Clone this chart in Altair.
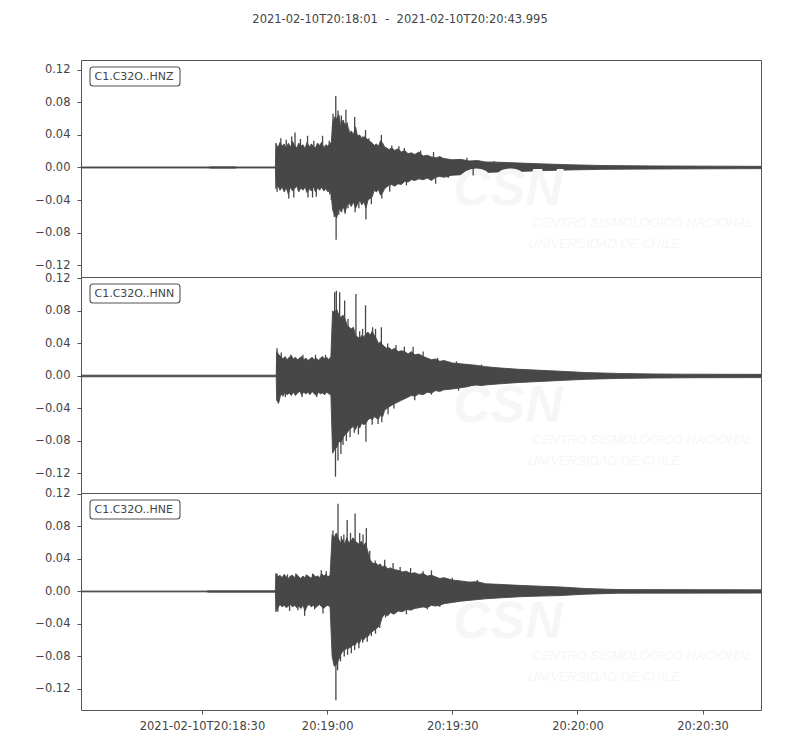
import altair as alt
import pandas as pd

# ---------------- data (seconds after 2021-02-10T20:18:01) ----------------
T_END = 162.995
title_text = "2021-02-10T20:18:01\u00a0\u00a0-\u00a0\u00a02021-02-10T20:20:43.995"
channels = ["C1.C32O..HNZ", "C1.C32O..HNN", "C1.C32O..HNE"]

x_tick_values = [29, 59, 89, 119, 149]
x_tick_labels = ["2021-02-10T20:18:30", "20:19:00", "20:19:30", "20:20:00", "20:20:30"]
y_tick_values = [-0.12, -0.08, -0.04, 0.0, 0.04, 0.08, 0.12]
y_domains = [[-0.1347, 0.1322], [-0.1440, 0.1218], [-0.1459, 0.1212]]

# envelope (time, upper, lower)
hnz_env = [(0, .0006, -.0006), (30.5, .0006, -.0006), (31, .0009, -.0009), (37, .0009, -.0009),
           (37.5, .0006, -.0006), (46.6, .0006, -.0006),
           (46.7, .030, -.026), (47.2, .024, -.022), (47.7, .031, -.028), (48.2, .026, -.024),
           (48.7, .029, -.030), (49.2, .023, -.025), (49.7, .030, -.033), (50.2, .025, -.024),
           (50.7, .032, -.029), (51.2, .027, -.026), (51.7, .024, -.023), (52.2, .030, -.030),
           (52.7, .026, -.025), (53.2, .028, -.028), (53.7, .023, -.024), (54.2, .031, -.031),
           (54.7, .025, -.026), (55.2, .029, -.029), (55.7, .026, -.023), (56.2, .024, -.030),
           (56.7, .030, -.025), (57.2, .027, -.028), (57.7, .031, -.024), (58.2, .024, -.029),
           (58.7, .028, -.026), (59.2, .026, -.030), (59.7, .030, -.027), (60.0, .030, -.034),
           (60.3, .055, -.052), (60.8, .062, -.058), (61.3, .060, -.062), (61.8, .065, -.050),
           (62.3, .050, -.054), (62.8, .058, -.048), (63.3, .052, -.055), (63.8, .055, -.046),
           (64.3, .042, -.044), (64.8, .045, -.048), (65.3, .040, -.042), (65.8, .050, -.050),
           (66.3, .038, -.045), (66.8, .040, -.040), (67.3, .035, -.046), (67.8, .038, -.042),
           (68.3, .036, -.050), (68.8, .034, -.040), (69.3, .032, -.038), (69.8, .030, -.036),
           (70.3, .027, -.028), (70.8, .029, -.030), (71.3, .026, -.027), (71.8, .033, -.034),
           (72.3, .030, -.031), (72.8, .025, -.026), (73.3, .024, -.024), (73.8, .022, -.022),
           (74.5, .024, -.021), (75.2, .021, -.023), (76.0, .023, -.020), (76.8, .019, -.021),
           (77.6, .021, -.017), (78.4, .017, -.018), (79.2, .018, -.015), (80.0, .016, -.016),
           (81.0, .019, -.014), (82.0, .014, -.015), (83.0, .015, -.013), (84.0, .013, -.016),
           (85.0, .012, -.012), (86.0, .013, -.011), (87.0, .011, -.012), (89.0, .0095, -.0095),
           (91.0, .010, -.009), (93.0, .008, -.0085), (95.0, .0085, -.0075), (97.0, .0068, -.0062),
           (100.0, .0065, -.0055), (105.0, .0055, -.0048), (110.0, .0045, -.0040), (117.0, .0034, -.0030),
           (125.0, .0024, -.0023), (137.0, .0019, -.0019), (153.0, .0016, -.0016), (163.0, .0014, -.0014)]
hnn_env = [(0, .0010, -.0010), (46.8, .0010, -.0010),
           (46.9, .030, -.030), (47.4, .026, -.033), (47.9, .024, -.022), (48.4, .021, -.025),
           (48.9, .024, -.020), (49.4, .020, -.023), (49.9, .023, -.021), (50.4, .025, -.024),
           (50.9, .021, -.020), (51.4, .023, -.024), (51.9, .020, -.021), (52.4, .022, -.019),
           (52.9, .024, -.023), (53.4, .020, -.020), (53.9, .022, -.022), (54.4, .019, -.020),
           (54.9, .021, -.023), (55.4, .023, -.019), (55.9, .020, -.022), (56.4, .022, -.024),
           (56.9, .019, -.020), (57.4, .022, -.022), (57.9, .024, -.021), (58.4, .021, -.023),
           (58.9, .023, -.020), (59.4, .020, -.022), (59.9, .024, -.023),
           (60.3, .080, -.095), (60.8, .078, -.090), (61.3, .082, -.088), (61.8, .075, -.080),
           (62.3, .072, -.082), (62.8, .075, -.076), (63.3, .070, -.072), (63.8, .062, -.070),
           (64.3, .060, -.066), (64.8, .058, -.064), (65.3, .060, -.062), (65.8, .050, -.066),
           (66.3, .048, -.060), (66.8, .046, -.064), (67.3, .050, -.058), (67.8, .048, -.060),
           (68.3, .052, -.058), (68.8, .054, -.054), (69.3, .050, -.052), (69.8, .055, -.054),
           (70.3, .050, -.050), (70.8, .046, -.052), (71.3, .040, -.053), (71.8, .042, -.048),
           (72.3, .038, -.050), (72.8, .036, -.042), (73.3, .034, -.040), (73.8, .035, -.038),
           (74.5, .032, -.036), (75.2, .034, -.034), (76.0, .030, -.032), (76.8, .031, -.030),
           (77.6, .030, -.028), (78.4, .027, -.026), (79.2, .030, -.024), (80.0, .026, -.025),
           (81.0, .027, -.022), (82.0, .024, -.023), (83.0, .022, -.020), (84.0, .020, -.021),
           (85.0, .021, -.018), (86.0, .018, -.019), (87.0, .019, -.017), (89.0, .016, -.016),
           (91.0, .015, -.0145), (93.0, .014, -.013), (95.0, .013, -.0125), (97.0, .0115, -.011),
           (100.0, .010, -.0098), (105.0, .0082, -.008), (110.0, .007, -.0068), (115.0, .0058, -.0055),
           (121.0, .0042, -.0041), (129.0, .0031, -.003), (137.0, .0025, -.0025), (145.0, .0022, -.0022),
           (163.0, .0020, -.0020)]
hne_env = [(0, .0005, -.0005), (30, .0005, -.0005), (30.5, .0009, -.0009), (46.6, .0009, -.0009),
           (46.7, .022, -.025), (47.2, .018, -.020), (47.7, .020, -.016), (48.2, .017, -.019),
           (48.7, .021, -.017), (49.2, .018, -.020), (49.7, .016, -.018), (50.2, .019, -.016),
           (50.7, .020, -.019), (51.2, .017, -.017), (51.7, .021, -.020), (52.2, .018, -.018),
           (52.7, .016, -.021), (53.2, .019, -.017), (53.7, .017, -.024), (54.2, .020, -.018),
           (54.7, .018, -.016), (55.2, .016, -.019), (55.7, .021, -.017), (56.2, .018, -.020),
           (56.7, .019, -.018), (57.2, .017, -.016), (57.7, .022, -.019), (58.2, .019, -.021),
           (58.7, .021, -.018), (59.2, .018, -.017), (59.7, .020, -.019),
           (60.2, .070, -.080), (60.7, .066, -.092), (61.2, .072, -.090), (61.7, .065, -.085),
           (62.2, .060, -.078), (62.7, .064, -.074), (63.2, .058, -.072), (63.7, .066, -.070),
           (64.2, .060, -.070), (64.7, .062, -.068), (65.2, .066, -.066), (65.7, .062, -.066),
           (66.2, .060, -.062), (66.7, .058, -.064), (67.2, .062, -.058), (67.7, .056, -.060),
           (68.2, .060, -.056), (68.7, .050, -.056), (69.2, .040, -.052), (69.7, .036, -.050),
           (70.2, .034, -.048), (70.7, .035, -.046), (71.2, .032, -.044), (71.7, .034, -.040),
           (72.2, .030, -.032), (72.8, .032, -.028), (73.5, .028, -.030), (74.2, .029, -.026),
           (75.0, .027, -.028), (76.0, .026, -.024), (77.0, .024, -.025), (78.0, .025, -.022),
           (79.0, .022, -.023), (80.0, .023, -.021), (81.0, .021, -.020), (82.0, .022, -.019),
           (83.0, .019, -.020), (84.0, .020, -.017), (85.0, .018, -.018), (86.0, .016, -.017),
           (87.0, .017, -.015), (89.0, .014, -.0135), (91.0, .013, -.012), (93.0, .0115, -.011),
           (95.0, .012, -.010), (97.0, .0095, -.009), (100.0, .0088, -.008), (105.0, .0075, -.0065),
           (110.0, .0065, -.0057), (115.0, .0055, -.005), (121.0, .0036, -.0033), (129.0, .0023, -.0021),
           (163.0, .0020, -.0020)]

# individual peaks (time, amplitude)
hnz_spikes = [(47.0, -0.030), (47.9, 0.036), (49.2, 0.034), (49.8, -0.038), (50.5, 0.038), (51.0, -0.037),
              (51.3, 0.043), (52.6, 0.035), (54.3, 0.039), (54.4, -0.037), (55.5, -0.037), (55.8, 0.033),
              (56.4, -0.036), (57.9, 0.039), (59.5, 0.033), (59.6, -0.033), (60.0, -0.040), (60.4, 0.066),
              (60.7, -0.061), (61.07, 0.088), (61.15, -0.089), (61.6, 0.070), (61.8, -0.058), (62.4, 0.064),
              (62.5, -0.055), (62.9, 0.058), (63.3, -0.057), (63.5, 0.071), (64.0, -0.050), (64.2, 0.047),
              (65.6, 0.062), (65.7, -0.055), (66.5, 0.040), (66.6, -0.050), (67.4, 0.038), (68.2, 0.046),
              (68.3, -0.064), (69.0, 0.036), (69.6, -0.045), (72.0, 0.040), (72.1, -0.038), (74.0, -0.030),
              (74.5, 0.027), (76.2, 0.026), (77.5, 0.024), (78.0, -0.022), (81.4, 0.021), (84.5, 0.019),
              (85.0, -0.020), (86.0, 0.014), (88.0, -0.013), (92.5, 0.012), (94.0, -0.010), (99.0, 0.008)]
hnn_spikes = [(47.0, 0.034), (47.3, -0.034), (48.0, 0.029), (49.0, -0.026), (50.3, 0.026), (53.0, -0.026),
              (53.2, 0.026), (56.2, 0.026), (56.5, -0.026), (58.6, 0.026), (60.1, 0.027), (60.8, 0.103),
              (61.0, -0.124), (61.2, 0.105), (61.6, -0.104), (62.0, 0.103), (62.3, -0.096), (62.8, -0.085),
              (63.2, 0.093), (63.6, -0.080), (64.0, 0.070), (64.5, -0.075), (65.5, -0.070), (65.9, 0.101),
              (66.5, -0.072), (66.8, 0.055), (67.5, 0.058), (68.2, 0.087), (68.3, -0.081), (69.8, -0.060),
              (69.9, 0.060), (70.6, 0.058), (71.2, -0.059), (72.0, 0.060), (72.1, -0.057), (73.5, 0.040),
              (73.6, -0.047), (75.0, -0.040), (75.5, 0.038), (77.5, 0.036), (79.6, 0.036), (80.0, -0.030),
              (82.0, 0.030), (84.0, -0.023), (85.5, 0.022), (90.0, 0.018), (90.5, -0.018), (96.0, 0.014)]
hne_spikes = [(47.0, 0.022), (47.2, -0.025), (49.5, 0.021), (50.0, -0.024), (51.5, 0.022), (52.0, -0.023),
              (53.6, -0.030), (54.0, 0.021), (55.5, 0.022), (56.0, -0.022), (57.6, 0.026), (58.0, -0.027),
              (58.8, 0.025), (60.4, 0.075), (61.0, 0.070), (61.1, -0.134), (61.5, -0.097), (61.6, 0.108),
              (62.2, -0.086), (62.4, 0.068), (63.0, 0.070), (63.1, -0.080), (63.8, 0.088), (63.9, -0.078),
              (64.6, 0.072), (64.8, -0.076), (65.6, -0.072), (65.7, 0.096), (66.6, -0.070), (66.8, 0.072),
              (67.5, -0.063), (67.6, 0.070), (68.4, 0.078), (68.6, -0.062), (69.2, 0.050), (69.6, -0.055),
              (70.5, 0.038), (70.6, -0.052), (71.6, -0.045), (72.8, 0.039), (73.0, -0.032), (74.8, 0.035),
              (76.5, 0.030), (78.0, -0.028), (79.0, 0.029), (82.0, 0.025), (83.0, -0.022), (84.0, 0.026),
              (86.0, -0.019), (89.0, 0.017), (95.0, 0.014)]

# ---------------- styling ----------------
TRACE = "#474747"
SPINE = "#555555"
TEXTC = "#444444"
FONT = "DejaVu Sans"
W = 680
HEIGHTS = [217, 216, 217]

x_label_expr = " : ".join(
    f"datum.value == {v} ? '{l}'" for v, l in zip(x_tick_values, x_tick_labels)
) + " : ''"


def one(text):
    return pd.DataFrame({"s": [text]})


def panel(i, env, spikes, show_x):
    env_df = pd.DataFrame(env, columns=["t", "hi", "lo"])
    sp = pd.DataFrame(spikes, columns=["t", "v"])
    sp["hi"] = sp["v"].clip(lower=0)
    sp["lo"] = sp["v"].clip(upper=0)

    xscale = alt.Scale(domain=[0, T_END], nice=False, zero=False)
    yscale = alt.Scale(domain=y_domains[i], nice=False, zero=False)
    if show_x:
        xaxis = alt.Axis(values=x_tick_values, labelExpr=x_label_expr, title=None,
                         labelPadding=6, labelFlush=False, labelOverlap=False)
    else:
        xaxis = None
    yaxis = alt.Axis(values=y_tick_values, format=".2f", title=None, labelPadding=7,
                     labelOverlap=False, labelFlush=False, labelBound=False,
                     labelExpr="replace(datum.label, '-', '\u2212')")

    wm_color = "#f6f6f6"
    wm1 = alt.Chart(one("CSN")).mark_text(
        font="Liberation Sans", fontSize=52, fontWeight="bold", fontStyle="italic",
        align="left", baseline="alphabetic", color=wm_color, clip=True
    ).encode(text="s", x=alt.value(372), y=alt.value(145))
    wm2 = alt.Chart(one("CENTRO SISMOLÓGICO NACIONAL")).mark_text(
        font="Liberation Sans", fontSize=13, fontStyle="italic",
        align="left", baseline="alphabetic", color=wm_color, clip=True
    ).encode(text="s", x=alt.value(451), y=alt.value(167))
    wm3 = alt.Chart(one("UNIVERSIDAD DE CHILE")).mark_text(
        font="Liberation Sans", fontSize=13, fontStyle="italic",
        align="left", baseline="alphabetic", color=wm_color, clip=True
    ).encode(text="s", x=alt.value(447), y=alt.value(188))

    area = alt.Chart(env_df).mark_area(
        color=TRACE, stroke=TRACE, strokeWidth=0.9, clip=True
    ).encode(
        x=alt.X("t:Q", scale=xscale, axis=xaxis),
        y=alt.Y("hi:Q", scale=yscale, axis=yaxis),
        y2="lo:Q",
    )
    rules = alt.Chart(sp).mark_rule(color=TRACE, strokeWidth=1.3, clip=True).encode(
        x=alt.X("t:Q", scale=xscale, axis=xaxis),
        y=alt.Y("hi:Q", scale=yscale, axis=yaxis),
        y2="lo:Q",
    )

    box = alt.Chart(one("box")).mark_rect(
        fill="white", stroke=SPINE, strokeWidth=1.1, cornerRadius=3
    ).encode(x=alt.value(9), x2=alt.value(99), y=alt.value(7), y2=alt.value(26))
    lab = alt.Chart(one(channels[i])).mark_text(
        font=FONT, fontSize=11, color=TEXTC, align="left", baseline="middle"
    ).encode(text="s", x=alt.value(13.5), y=alt.value(16.5))

    layers = [area, wm1, wm2, wm3, rules, box, lab]
    if i == 0:
        ttl = alt.Chart(one(title_text)).mark_text(
            font=FONT, fontSize=11.5, color=TEXTC, align="center", baseline="middle"
        ).encode(text="s", x=alt.value(319), y=alt.value(-40))
        layers.append(ttl)

    return alt.layer(*layers).properties(width=W, height=HEIGHTS[i])


p1 = panel(0, hnz_env, hnz_spikes, False)
p2 = panel(1, hnn_env, hnn_spikes, False)
p3 = panel(2, hne_env, hne_spikes, True)

chart = alt.vconcat(p1, p2, p3, spacing=0, bounds="flush").properties(
    padding={"left": 26, "top": 5, "right": 20, "bottom": 10},
    background="white",
).configure_view(
    stroke=SPINE, strokeWidth=1
).configure_axis(
    labelFont=FONT, labelFontSize=11.5, labelColor=TEXTC, tickColor=SPINE,
    tickSize=4, tickWidth=1, domain=False, grid=False, labelOverlap=False,
)

chart.save("out.html", embed_options={"renderer": "svg", "actions": False})
